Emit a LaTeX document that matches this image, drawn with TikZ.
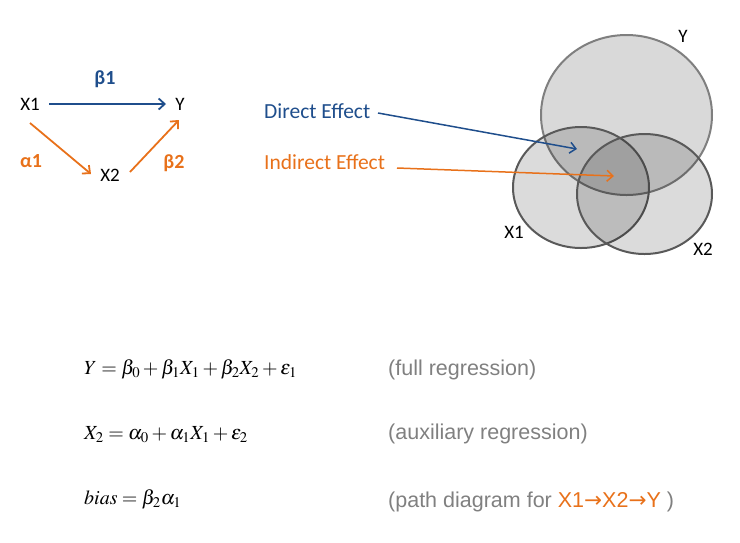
\documentclass[tikz,border=0pt]{standalone}
\usepackage{mathptmx}
\usepackage{fontspec}
\setmainfont{Carlito}
\newfontfamily\arialfont{Liberation Sans}
\newfontfamily\arrowfont{DejaVu Sans}
\usetikzlibrary{arrows.meta}
\definecolor{myblue}{HTML}{1F4E8C}
\definecolor{myorange}{HTML}{E8711A}
\definecolor{mygray}{HTML}{808080}
\definecolor{ringY}{HTML}{7F7F7F}
\definecolor{ringX}{HTML}{595959}
\tikzset{
  lbl/.style={font=\fontsize{19}{21}\selectfont, inner sep=0pt},
  blbl/.style={font=\fontsize{20}{22}\selectfont\bfseries, inner sep=0pt},
  eff/.style={font=\fontsize{21.5}{23}\selectfont, inner sep=0pt, anchor=west},
  eq/.style={font=\fontsize{20}{22}\selectfont, inner sep=0pt, anchor=west},
  note/.style={font=\fontsize{21.5}{23}\selectfont\arialfont, text=mygray, inner sep=0pt, anchor=west},
  arr/.style={-{Straight Barb[length=6pt,width=11pt]}, line width=1.8pt},
  venn/.style={line width=2pt, fill=black, fill opacity=0.14},
}
\begin{document}
\begin{tikzpicture}[x=1pt,y=-1pt]
\useasboundingbox (0,0) rectangle (740,542);
% left path diagram
\node[lbl] (x1) at (30,104) {X1};
\node[lbl] (y) at (180,104) {Y};
\node[lbl] (x2) at (110,175) {X2};
\node[blbl, text=myblue] (b1) at (105,79) {β1};
\node[blbl, text=myorange] (a1) at (31,161) {α1};
\node[blbl, text=myorange] (b2) at (174,163) {β2};
\coordinate (x1e) at (49,104);
\coordinate (ye) at (166,104);
\draw[arr, myblue] (x1e) -- (ye);
\coordinate (x1s) at (30,123);
\coordinate (x2w) at (91,174);
\draw[arr, myorange] (x1s) -- (x2w);
\coordinate (x2e) at (130,172);
\coordinate (ys) at (179,120);
\draw[arr, myorange] (x2e) -- (ys);
% venn
\draw[venn, draw=ringY, fill opacity=0.15] (626.5,115) ellipse [x radius=85.5, y radius=80];
\draw[venn, draw=ringX] (581,187.5) ellipse [x radius=68, y radius=60.5];
\draw[venn, draw=ringX] (644.5,194) ellipse [x radius=67.5, y radius=60];
\node[lbl] (vy) at (683,36) {Y};
\node[lbl] (vx1) at (514,232) {X1};
\node[lbl] (vx2) at (703,249) {X2};
% effects
\node[eff, text=myblue] (de) at (264,111) {Direct Effect};
\node[eff, text=myorange] (ie) at (264,162) {Indirect Effect};
\coordinate (ds) at (378,113);
\coordinate (dt) at (577,149);
\coordinate (is) at (397,168);
\coordinate (it) at (614,176);
\draw[arr, myblue, line width=1.5pt] (ds) -- (dt);
\draw[arr, myorange, line width=1.5pt] (is) -- (it);
% equations
\node[eq] (e1) at (84,369) {$Y=\beta_0+\beta_1X_1+\beta_2X_2+\varepsilon_1$};
\node[eq] (e2) at (84,435) {$X_2=\alpha_0+\alpha_1X_1+\varepsilon_2$};
\node[eq] (e3) at (84,499) {$\mathit{bias}=\beta_2\alpha_1$};
\node[note] (n1) at (388,370) {(full regression)};
\node[note] (n2) at (388,434) {(auxiliary regression)};
\node[note] (n3) at (388,502) {(path diagram for \textcolor{myorange}{X1{\arrowfont→}X2{\arrowfont→}Y} )};
\end{tikzpicture}
\end{document}
